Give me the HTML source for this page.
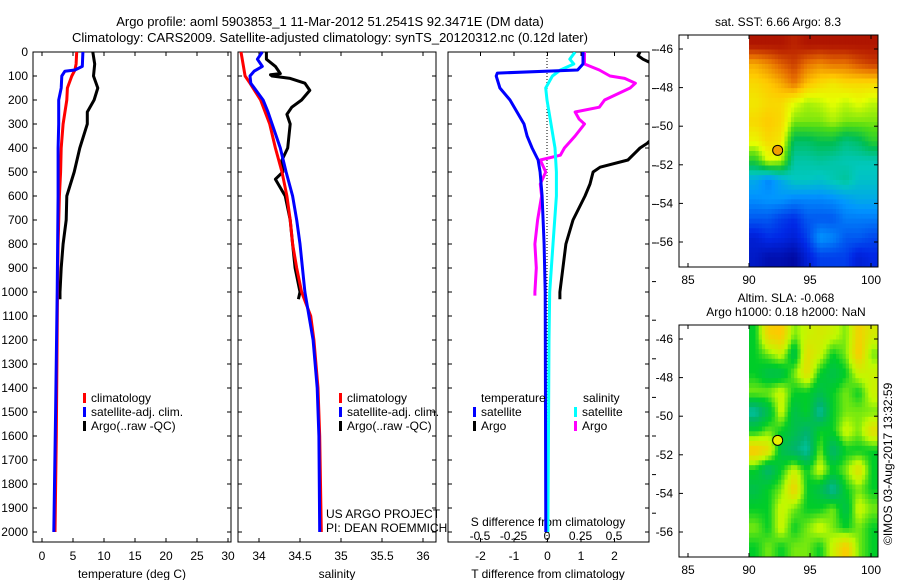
<!DOCTYPE html>
<html><head><meta charset="utf-8"><style>
body{margin:0;background:#fff}
svg text{font-family:"Liberation Sans",sans-serif;font-size:12px;fill:#000}
</style></head><body>
<svg id="c" width="900" height="580" xmlns="http://www.w3.org/2000/svg">
<defs><clipPath id="clip3"><rect x="448" y="52" width="201" height="490"/></clipPath></defs>
<text x="330" y="26" text-anchor="middle" style="font-size:13px">Argo profile: aoml 5903853_1 11-Mar-2012 51.2541S 92.3471E (DM data)</text>
<text x="330" y="42" text-anchor="middle" style="font-size:13px">Climatology: CARS2009. Satellite-adjusted climatology: synTS_20120312.nc (0.12d later)</text>
<text x="326" y="518">US ARGO PROJECT</text>
<text x="326" y="532">PI: DEAN ROEMMICH</text>
<text x="0" y="0" transform="translate(892,545) rotate(-90)">©IMOS 03-Aug-2017 13:32:59</text>
<text x="778" y="26" text-anchor="middle">sat. SST: 6.66 Argo: 8.3</text>
<text x="786" y="302" text-anchor="middle">Altim. SLA: -0.068</text>
<text x="786" y="316" text-anchor="middle">Argo h1000: 0.18 h2000: NaN</text>
</svg>
<script>
// ---- profile data (depth in m) ----
const climTDepth=[0,50,75,100,150,200,300,400,500,600,800,1000,1300,1600,2000];
const climT=[5.6,5.5,5.3,4.8,4.1,4.0,3.4,3.1,3.0,2.8,2.6,2.5,2.4,2.3,2.1];
const satTDepth=[0,60,75,80,100,150,200,300,400,600,1000,1500,2000];
const satT=[6.6,6.5,5.3,3.7,3.2,3.1,2.7,2.7,2.6,2.6,2.45,2.2,1.9];
const argoTDepth=[0,50,100,150,200,250,300,400,500,600,700,800,900,1000,1030];
const argoT=[8.2,8.5,8.3,9.0,8.4,7.3,7.3,6.1,5.2,4.0,3.9,3.4,3.1,2.9,2.9];
const climSDepth=[0,100,125,200,300,400,500,600,700,800,900,1000,1100,1200,1400,1600,1800,2000];
const climS=[33.78,33.83,33.88,34.02,34.13,34.2,34.28,34.34,34.38,34.41,34.46,34.52,34.63,34.67,34.72,34.74,34.75,34.76];
const satSDepth=[0,30,60,80,100,130,200,250,300,400,500,600,700,800,1000,1200,1400,1600,2000];
const satS=[34.04,33.98,34.04,33.94,33.89,33.9,34.05,34.11,34.16,34.26,34.33,34.41,34.46,34.5,34.56,34.66,34.71,34.73,34.74];
const argoSDepth=[0,30,60,90,95,100,110,130,160,200,230,260,300,400,450,500,530,600,700,800,900,1000,1030];
const argoS=[34.09,34.09,34.2,34.26,34.14,34.16,34.38,34.56,34.62,34.52,34.4,34.34,34.38,34.35,34.28,34.29,34.2,34.32,34.38,34.41,34.44,34.5,34.48];
const dTSatDepth=[0,50,75,88,100,150,200,250,300,350,400,450,500,550,600,800,1000,2000];
const dTSat=[1.06,1.06,0.9,-1.5,-1.53,-1.42,-1.12,-0.91,-0.70,-0.61,-0.46,-0.28,-0.22,-0.19,-0.16,-0.10,-0.07,-0.05];
const dTArgoDepth=[0,15,30,60,100,200,300,350,380,400,450,480,500,550,600,700,800,900,1000,1030];
const dTArgo=[2.76,2.7,2.85,3.3,3.6,3.6,3.5,3.2,2.98,2.76,2.40,1.57,1.36,1.27,1.12,0.76,0.55,0.46,0.37,0.37];
const dSSatDepth=[0,30,50,75,100,150,200,300,400,500,600,800,1000,1200,2000];
const dSSat=[0.21,0.17,0.20,0.10,0.04,-0.01,0,0.03,0.06,0.07,0.07,0.045,0.02,0.015,0.007];
const dSArgoDepth=[0,50,75,100,110,130,150,200,230,250,280,300,350,400,430,450,500,550,600,700,800,900,1000,1015];
const dSArgo=[0.28,0.28,0.39,0.47,0.58,0.66,0.62,0.43,0.39,0.21,0.24,0.28,0.21,0.13,0.10,-0.05,-0.01,-0.05,-0.04,-0.07,-0.09,-0.08,-0.09,-0.09];
// ---- map data (rows N->S, cols W->E, 90..100.5E, -45.2..-57.3) ----
const sstGrid=[
[10,10,10,9.8,10,10,10,10,10,10],
[8.5,8.8,9.2,9.5,9,8.8,9,9,9.3,9.5],
[8,8.2,8.5,9,8.3,8,7.8,8,8,8],
[7.8,8,8,7.5,7.2,7.3,7.5,7.3,7.5,7.3],
[8,8.2,8,7,7,7,7.2,7,7,7],
[7.6,8,7.8,6,6,6.2,6.2,5.8,6,6.5],
[6.5,7.5,7.3,5.5,5.5,5.6,5.5,5.4,5.4,5.4],
[4.8,4.3,4.8,5.3,5.3,5.2,5.4,5.6,5.2,5.2],
[4.4,4.5,4.5,4.3,4.3,4.3,4.4,4.6,4.8,4.8],
[3.8,3.8,3.5,3.3,3.8,3.8,3.8,4.2,4.2,4.2],
[3,3.3,3.2,3,3.5,4.5,4.3,3.8,3.8,3.6],
[2.8,2.5,2.5,2.3,3,3.5,3.5,3.5,3,3.2]];
const slaGrid=[
[0,0.18,0.2,0.05,0.1,0.12,0.1,0.05,0.18,0.12],
[0,0.05,0.1,-0.05,0.15,0.1,0,0.05,0.2,0.05],
[0,-0.05,-0.05,0.05,0.15,0,-0.05,0,0.1,0.1],
[0.05,0.05,0.1,0,0,-0.05,0,0.05,0,0.1],
[-0.15,-0.05,0.1,-0.05,0,-0.15,0,0.05,0.05,0.05],
[0,0.05,0,-0.05,-0.1,0,0,0.1,0.05,0.15],
[0.2,0.15,-0.05,-0.1,-0.15,0.05,-0.1,0,0,0],
[0,-0.1,0,0.1,0,0.1,0,0.05,0.15,0],
[-0.05,0,0.05,0.18,0,-0.05,-0.15,0,0.05,0],
[0,0,0.1,0.05,0,0,0.05,-0.05,0.1,0.05],
[0.05,0,0.1,0,0.05,0.1,0.05,0,0.05,0],
[0,0.05,0,0.05,0.05,0,0.1,0.2,0.05,0]];
const argoLon=92.35, argoLat=-51.25;

const NS="http://www.w3.org/2000/svg";
const svg=document.getElementById('c');
function mk(tag,at,parent){const e=document.createElementNS(NS,tag);for(const k in at)e.setAttribute(k,at[k]);(parent||svg).appendChild(e);return e;}
function txt(x,y,s,anchor,name){const t=mk('text',{x:x,y:y,'text-anchor':anchor||'start'});t.textContent=s;


return t;}

const Y0=52, Y1=542, DPX=0.24;
const yD=d=>Y0+d*DPX;
function panel(l,r,name){const g=mk('rect',{x:l,y:Y0,width:r-l,height:Y1-Y0,fill:'none',stroke:'#000','stroke-width':1});


for(let d=0;d<=2000;d+=100){mk('line',{x1:l,x2:l+4,y1:yD(d),y2:yD(d),stroke:'#000'});mk('line',{x1:r-4,x2:r,y1:yD(d),y2:yD(d),stroke:'#000'});}}
function line(xs,ds,xf,col,clip,name){const pts=xs.map((v,i)=>xf(v).toFixed(1)+','+yD(ds[i]).toFixed(1)).join(' ');
const at={points:pts,fill:'none',stroke:col,'stroke-width':3,'stroke-linejoin':'round'};
if(clip)at['clip-path']='url(#'+clip+')';
const p=mk('polyline',at);

}
function xtick(x,lab,yl,name){mk('line',{x1:x,x2:x,y1:Y0,y2:Y0+4,stroke:'#000'});mk('line',{x1:x,x2:x,y1:Y1-4,y2:Y1,stroke:'#000'});if(lab!==null)txt(x,yl,lab,'middle',name);}

const xT=t=>42+6.2*t;
panel(33,231,'temperature-panel');
for(let d=0;d<=2000;d+=100)txt(28,yD(d)+4,String(d),'end','depth-tick-label');
[0,5,10,15,20,25,30].forEach(v=>xtick(xT(v),String(v),560,'temperature-tick-label'));
txt(132,578,'temperature (deg C)','middle','temperature-axis-title');
line(argoT,argoTDepth,xT,'#000',null,'argo-temperature-line');
line(climT,climTDepth,xT,'#f00',null,'clim-temperature-line');
line(satT,satTDepth,xT,'#00f',null,'sat-temperature-line');
const xS=s=>259+82*(s-34);
panel(238,436,'salinity-panel');
[34,34.5,35,35.5,36].forEach(v=>xtick(xS(v),String(v),560,'salinity-tick-label'));
txt(337,578,'salinity','middle','salinity-axis-title');
line(argoS,argoSDepth,xS,'#000',null,'argo-salinity-line');
line(climS,climSDepth,xS,'#f00',null,'clim-salinity-line');
line(satS,satSDepth,xS,'#00f',null,'sat-salinity-line');
const xdT=t=>547.5+33.5*t, xdS=s=>547+134*s;
panel(448,649,'difference-panel');
mk('line',{x1:547,x2:547,y1:Y0,y2:Y1,stroke:'#000','stroke-dasharray':'1,2'});
[-2,-1,0,1,2].forEach(v=>xtick(xdT(v),String(v),560,'t-diff-tick-label'));
[['-0.5',-0.5],['-0.25',-0.25],['0',0],['0.25',0.25],['0.5',0.5]].forEach(a=>txt(xdS(a[1]),540,a[0],'middle','s-diff-tick-label'));
txt(548,526,'S difference from climatology','middle','s-diff-axis-title');
txt(548,578,'T difference from climatology','middle','t-diff-axis-title');
line(dTArgo,dTArgoDepth,xdT,'#000','clip3','argo-tdiff-line');
line(dSArgo,dSArgoDepth,xdS,'#f0f','clip3','argo-sdiff-line');
line(dSSat,dSSatDepth,xdS,'#0ff','clip3','sat-sdiff-line');
line(dTSat,dTSatDepth,xdT,'#00f','clip3','sat-tdiff-line');
for(let y=50;y<540;y+=38.6)mk('line',{x1:652,x2:656,y1:y,y2:y,stroke:'#000'});
function leg(x,y,col,s,name){mk('rect',{x:x,y:y-9,width:3,height:10,fill:col});txt(x+8,y,s,'start',name);}
[[83,'red','climatology'],[83,'#00f','satellite-adj. clim.'],[83,'#000','Argo(..raw -QC)']].forEach((a,i)=>leg(a[0],402+i*14,a[1],a[2],'legend-entry'));
[[339,'red','climatology'],[339,'#00f','satellite-adj. clim.'],[339,'#000','Argo(..raw -QC)']].forEach((a,i)=>leg(a[0],402+i*14,a[1],a[2],'legend-entry'));
txt(481,402,'temperature','start','legend-header');txt(583,402,'salinity','start','legend-header');
leg(473,416,'#00f','satellite','legend-entry');leg(473,430,'#000','Argo','legend-entry');
leg(574,416,'#0ff','satellite','legend-entry');leg(574,430,'#f0f','Argo','legend-entry');

function lerpCol(stops,t){t=Math.max(0,Math.min(1,t));for(let i=1;i<stops.length;i++){if(t<=stops[i][0]){const a=stops[i-1],b=stops[i],f=(t-a[0])/(b[0]-a[0]||1);return 'rgb('+[0,1,2].map(k=>Math.round(a[1][k]+(b[1][k]-a[1][k])*f)).join(',')+')';}}return 'rgb('+stops[stops.length-1][1].join(',')+')';}
const jet=[[0,[0,0,140]],[0.15,[0,40,230]],[0.3,[0,150,255]],[0.4,[0,200,190]],[0.5,[0,190,80]],[0.58,[80,220,20]],[0.66,[230,255,0]],[0.75,[255,200,0]],[0.85,[230,110,0]],[0.93,[190,40,0]],[1,[160,0,0]]];
const slaC=[[0,[0,210,220]],[0.25,[0,180,110]],[0.5,[0,205,40]],[0.7,[190,250,0]],[1,[255,200,0]]];
function sample(grid,fi,fj){const R=grid.length,C=grid[0].length;fi=Math.max(0,Math.min(R-1,fi));fj=Math.max(0,Math.min(C-1,fj));
const i0=Math.floor(fi),j0=Math.floor(fj),i1=Math.min(R-1,i0+1),j1=Math.min(C-1,j0+1),a=fi-i0,b=fj-j0;
return grid[i0][j0]*(1-a)*(1-b)+grid[i0][j1]*(1-a)*b+grid[i1][j0]*a*(1-b)+grid[i1][j1]*a*b;}
function map(top,grid,cf,mc,name){const L=679,R=878,B=top+232,dx=749,lonPx=12.2,latPx=19.3,lat46=top+14;
const lonX=lo=>dx+(lo-90)*lonPx, latY=la=>lat46+(-46-la)*latPx;
const SUB=4, nr=grid.length*SUB, nc=grid[0].length*SUB;
const cw=(R-dx)/nc, ch=(B-top)/nr;
for(let i=0;i<nr;i++)for(let j=0;j<nc;j++){const v=sample(grid,(i+0.5)/SUB-0.5,(j+0.5)/SUB-0.5);
const r=mk('rect',{x:(dx+j*cw).toFixed(2),y:(top+i*ch).toFixed(2),width:(cw+0.4).toFixed(2),height:(ch+0.4).toFixed(2),fill:cf(v)});

}
const f=mk('rect',{x:L,y:top,width:R-L,height:B-top,fill:'none',stroke:'#000'});


[85,90,95,100].forEach(lo=>{const x=lonX(lo);mk('line',{x1:x,x2:x,y1:top,y2:top+4,stroke:'#000'});mk('line',{x1:x,x2:x,y1:B-4,y2:B,stroke:'#000'});txt(x,B+17,String(lo),'middle','lon-tick-label');});
[-46,-48,-50,-52,-54,-56].forEach(la=>{const y=latY(la);mk('line',{x1:L,x2:L+4,y1:y,y2:y,stroke:'#000'});mk('line',{x1:R-4,x2:R,y1:y,y2:y,stroke:'#000'});txt(L-6,y+4,String(la),'end','lat-tick-label');});
const c=mk('circle',{cx:lonX(argoLon),cy:latY(argoLat),r:5,fill:mc,stroke:'#000','stroke-width':1});

}
map(35,sstGrid,v=>lerpCol(jet,(v-2)/8.3),'#f0a000','sst-map');
map(325,slaGrid,v=>lerpCol(slaC,(v+0.2)/0.4),'#e8f000','sla-map');
</script>
</body></html>
